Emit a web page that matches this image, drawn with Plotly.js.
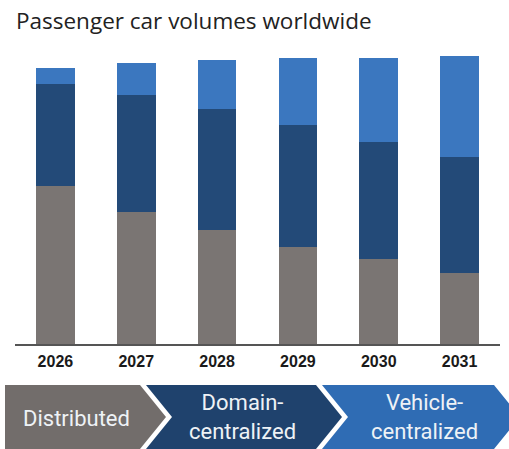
<!DOCTYPE html>
<html>
<head>
<meta charset="utf-8">
<script src="https://cdn.plot.ly/plotly-3.0.1.min.js"></script>
<style>html,body{margin:0;padding:0;background:#fff;}#chart{width:509px;height:449px;}</style>
</head>
<body>
<div id="chart"></div>
<script>
const years = ['2026', '2027', '2028', '2029', '2030', '2031'];
const distributed = [52.7, 44.1, 37.9, 32.3, 28.2, 23.8];
const domainCentralized = [33.9, 38.8, 40.3, 40.7, 39.2, 38.6];
const vehicleCentralized = [5.5, 10.9, 16.4, 22.4, 28.0, 33.7];
const phaseLabels = ['Distributed', 'Domain-<br>centralized', 'Vehicle-<br>centralized'];

(function () {
const W = 509, H = 449;
const M = {l: 15, r: 9, t: 50, b: 105};
const PW = W - M.l - M.r, PH = H - M.t - M.b;
const px = x => (x - M.l) / PW;
const py = y => (H - M.b - y) / PH;

const cGray = '#7a7573', cDark = '#234a78', cLight = '#3b77bf';
const bGray = '#726d6b', bDark = '#1f426d', bLight = '#2f6cb4';

const traces = [
  {type: 'bar', x: years, y: distributed, marker: {color: cGray}, name: 'Distributed'},
  {type: 'bar', x: years, y: domainCentralized, marker: {color: cDark}, name: 'Domain-centralized'},
  {type: 'bar', x: years, y: vehicleCentralized, marker: {color: cLight}, name: 'Vehicle-centralized'}
];

function poly(pts) {
  return 'M' + pts.map(p => px(p[0]) + ',' + py(p[1])).join(' L') + ' Z';
}
const yTop = 385, yMid = 417, yBot = 449;
const shapes = [
  {type: 'path', xref: 'paper', yref: 'paper', fillcolor: bGray, line: {width: 0},
   path: poly([[5, yTop], [140, yTop], [166, yMid], [140, yBot], [5, yBot]])},
  {type: 'path', xref: 'paper', yref: 'paper', fillcolor: bDark, line: {width: 0},
   path: poly([[146, yTop], [316, yTop], [342, yMid], [316, yBot], [146, yBot], [172, yMid]])},
  {type: 'path', xref: 'paper', yref: 'paper', fillcolor: bLight, line: {width: 0},
   path: poly([[322, yTop], [494, yTop], [520, yMid], [494, yBot], [322, yBot], [348, yMid]])}
];

const annFont = {family: 'Roboto, Liberation Sans, sans-serif', size: 22, color: '#eef2f6'};
const annotations = [
  {xref: 'paper', yref: 'paper', x: px(76), y: py(418), text: phaseLabels[0], showarrow: false, font: annFont, xanchor: 'center', yanchor: 'middle'},
  {xref: 'paper', yref: 'paper', x: px(242), y: py(417), text: phaseLabels[1], showarrow: false, font: annFont, xanchor: 'center', yanchor: 'middle'},
  {xref: 'paper', yref: 'paper', x: px(424), y: py(417), text: phaseLabels[2], showarrow: false, font: annFont, xanchor: 'center', yanchor: 'middle'}
];

const layout = {
  width: W, height: H,
  margin: M,
  paper_bgcolor: '#ffffff', plot_bgcolor: '#ffffff',
  barmode: 'stack',
  bargap: 0.52,
  showlegend: false,
  title: {
    text: 'Passenger car volumes worldwide',
    xref: 'container', yref: 'container',
    x: 16 / W, xanchor: 'left',
    y: 1 - 21 / H, yanchor: 'middle',
    font: {family: 'Open Sans, Noto Sans, sans-serif', size: 22.5, color: '#222222', weight: 500}
  },
  xaxis: {
    type: 'category',
    range: [-0.5, 5.5],
    showline: true, linecolor: '#555555', linewidth: 2,
    ticks: '', showgrid: false, zeroline: false,
    tickfont: {family: 'Liberation Sans, Arial, sans-serif', size: 16, color: '#1a1a1a', weight: 'bold'},
    ticklabelstandoff: 2
  },
  yaxis: {
    range: [0, PH / 3],
    visible: false, showgrid: false, zeroline: false
  },
  shapes: shapes,
  annotations: annotations
};

Plotly.newPlot('chart', traces, layout, {displayModeBar: false, staticPlot: true});
})();
</script>
</body>
</html>
